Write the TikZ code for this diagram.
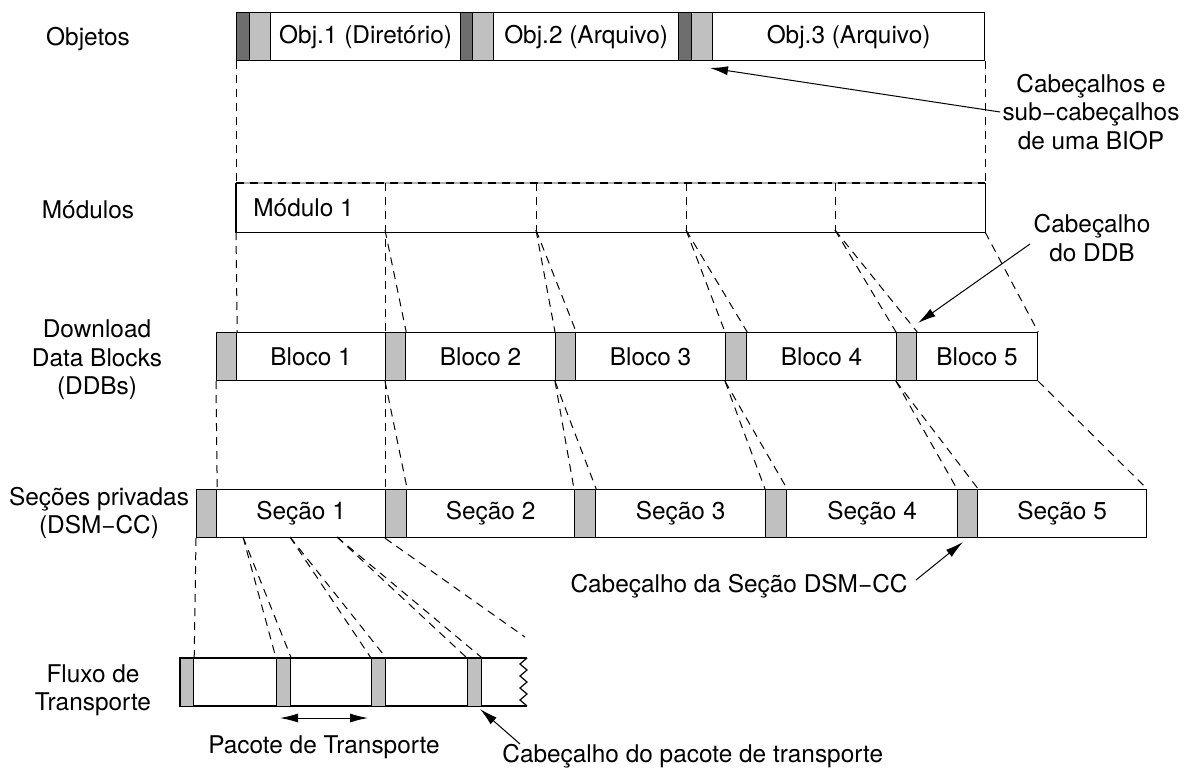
\documentclass[tikz,border=0pt]{standalone}
\usepackage{fontspec}
\setmainfont{TeX Gyre Heros}
\usetikzlibrary{arrows.meta}
\definecolor{dkgray}{HTML}{6E6E6E}
\definecolor{ltgray}{HTML}{C0C0C0}
\newcommand\seg[6]{\node[#1, minimum width={(#4-#3)*0.5pt}] (#2) at (#3,#5) {#6};}
\begin{document}
\begin{tikzpicture}[x=0.5pt,y=-0.5pt,
  font=\fontsize{12.2}{14.2}\selectfont,
  box/.style={draw, line width=0.6pt, minimum height=24pt, inner sep=0pt, anchor=north west},
  dk/.style={box, fill=dkgray},
  lt/.style={box, fill=ltgray},
  wt/.style={box, fill=white},
  blank/.style={box, draw=none},
  dsh/.style={dash pattern=on 4pt off 3pt, line width=0.5pt},
  arr/.style={-{Latex[length=9pt,width=4.5pt]}, line width=0.5pt},
  lbl/.style={align=center, inner sep=1pt}]
\useasboundingbox (0,0) rectangle (1188,771);
\fill[white] (0,0) rectangle (1188,771);

% left labels
\node[lbl] (lobj) at (88,39) {Objetos};
\node[lbl] (lmod) at (88,210) {Módulos};
\node[lbl] (lddb) at (97,360) {Download\\Data Blocks\\(DDBs)};
\node[lbl] (lsec) at (99,513) {Seções privadas\\(DSM−CC)};
\node[lbl] (lts) at (93,690) {Fluxo de\\Transporte};

% objects
\seg{dk}{o1a}{236}{249}{12}{}
\seg{lt}{o1b}{249}{270}{12}{}
\seg{wt}{o1}{270}{460}{12}{Obj.1 (Diretório)}
\seg{dk}{o2a}{460}{472}{12}{}
\seg{lt}{o2b}{472}{493}{12}{}
\seg{wt}{o2}{493}{678}{12}{Obj.2 (Arquivo)}
\seg{dk}{o3a}{678}{691}{12}{}
\seg{lt}{o3b}{691}{712}{12}{}
\seg{wt}{o3}{712}{984}{12}{Obj.3 (Arquivo)}

% module
\seg{blank}{mod}{236}{984}{183}{}
\draw[line width=0.6pt] (mod.north west) -- (mod.south west) -- (mod.south east) -- (mod.north east);
\draw[line width=0.6pt, gray!60] (mod.north west) -- (mod.north east);
\draw[dsh, line width=0.7pt] (mod.north west) -- (mod.north east);
\node[anchor=west, inner sep=0pt] (modt) at (253,208) {Módulo 1};
\coordinate (mt1) at (385,183); \coordinate (mb1) at (385,230);
\coordinate (mt2) at (536,183); \coordinate (mb2) at (536,230);
\coordinate (mt3) at (686,183); \coordinate (mb3) at (686,230);
\coordinate (mt4) at (835,183); \coordinate (mb4) at (835,230);

% DDBs
\seg{lt}{d1h}{216}{236}{332}{}
\seg{wt}{d1}{236}{385}{332}{Bloco 1}
\seg{lt}{d2h}{385}{405}{332}{}
\seg{wt}{d2}{405}{555}{332}{Bloco 2}
\seg{lt}{d3h}{555}{575}{332}{}
\seg{wt}{d3}{575}{725}{332}{Bloco 3}
\seg{lt}{d4h}{725}{746}{332}{}
\seg{wt}{d4}{746}{896}{332}{Bloco 4}
\seg{lt}{d5h}{896}{916}{332}{}
\seg{wt}{d5}{916}{1037}{332}{Bloco 5}

% sections
\seg{lt}{s1h}{196}{216}{489}{}
\seg{wt}{s1}{216}{385}{489}{Seção 1}
\seg{lt}{s2h}{385}{406}{489}{}
\seg{wt}{s2}{406}{574}{489}{Seção 2}
\seg{lt}{s3h}{574}{595}{489}{}
\seg{wt}{s3}{595}{765}{489}{Seção 3}
\seg{lt}{s4h}{765}{786}{489}{}
\seg{wt}{s4}{786}{957}{489}{Seção 4}
\seg{lt}{s5h}{957}{977}{489}{}
\seg{wt}{s5}{977}{1146}{489}{Seção 5}

% transport stream
\seg{blank}{t1}{193}{276}{658}{}
\seg{blank}{t2}{290}{371}{658}{}
\seg{blank}{t3}{385}{467}{658}{}
\seg{blank}{t4}{481}{527}{658}{}
\coordinate (tsNE) at (527,658);
\coordinate (tsSE) at (527,706);
\draw[line width=0.6pt] (tsNE) -- (t1.north west) -| (180,706) -- (tsSE);
\draw[line width=0.6pt] (tsNE) -- ++(-7,6) -- ++(7,6) -- ++(-7,6) -- ++(7,6) -- ++(-7,6) -- ++(7,6) -- ++(-7,6) -- (tsSE);
\seg{lt}{t1h}{180}{193}{658}{}
\seg{lt}{t2h}{276}{290}{658}{}
\seg{lt}{t3h}{371}{385}{658}{}
\seg{lt}{t4h}{467}{481}{658}{}

% dashed projections: objects -> module
\draw[dsh] (o1a.south west) -- (mod.north west);
\draw[dsh] (o3.south east) -- (mod.north east);
% module -> DDBs
\draw[dsh] (mod.south west) -- (d1h.north east);
\draw[dsh] (mt1) -- (d2h.north west);
\draw[dsh] (mb1) -- (d2h.north east);
\draw[dsh] (mt2) -- (mb2);
\draw[dsh] (mb2) -- (d3h.north west);
\draw[dsh] (mb2) -- (d3h.north east);
\draw[dsh] (mt3) -- (mb3);
\draw[dsh] (mb3) -- (d4h.north west);
\draw[dsh] (mb3) -- (d4h.north east);
\draw[dsh] (mt4) -- (mb4);
\draw[dsh] (mb4) -- (d5h.north west);
\draw[dsh] (mb4) -- (d5h.north east);
\draw[dsh] (mod.south east) -- (d5.north east);
% DDBs -> sections
\draw[dsh] (d1h.south west) -- (s1h.north east);
\draw[dsh] (d2h.south west) -- (s2h.north west);
\draw[dsh] (d2h.south west) -- (s2h.north east);
\draw[dsh] (d3h.south west) -- (s3h.north west);
\draw[dsh] (d3h.south west) -- (s3h.north east);
\draw[dsh] (d4h.south west) -- (s4h.north west);
\draw[dsh] (d4h.south west) -- (s4h.north east);
\draw[dsh] (d5h.south west) -- (s5h.north west);
\draw[dsh] (d5h.south west) -- (s5h.north east);
\draw[dsh] (d5.south east) -- (s5.north east);
% sections -> transport stream
\coordinate (sa) at (243,537);
\coordinate (sb) at (290,537);
\coordinate (sc) at (337,537);
\coordinate (send) at (525,637);
\draw[dsh] (s1h.south west) -- (t1h.north east);
\draw[dsh] (sa) -- (t2h.north west);
\draw[dsh] (sa) -- (t2h.north east);
\draw[dsh] (sb) -- (t3h.north west);
\draw[dsh] (sb) -- (t3h.north east);
\draw[dsh] (sc) -- (t4h.north west);
\draw[dsh] (sc) -- (t4h.north east);
\draw[dsh] (s2h.south west) -- (send);

% annotations
\node[lbl] (biop) at (1091,112) {Cabeçalhos e\\sub−cabeçalhos\\de uma BIOP};
\coordinate (biopT) at (710,68);
\draw[arr] (biop.west) -- (biopT);

\node[lbl] (ddbl) at (1092,238) {Cabeçalho\\do DDB};
\coordinate (ddbA) at (1030,244);
\coordinate (ddbT) at (918,323);
\draw[arr] (ddbA) -- (ddbT);

\node[lbl] (secl) at (739,586) {Cabeçalho da Seção DSM−CC};
\coordinate (secA) at (916,580);
\coordinate (secT) at (963,542);
\draw[arr] (secA) -- (secT);

\coordinate (pa) at (280,718);
\coordinate (pb) at (368,718);
\draw[{Latex[length=9pt,width=4.5pt]}-{Latex[length=9pt,width=4.5pt]}, line width=0.5pt] (pa) -- (pb);
\node[lbl] (pac) at (324,747) {Pacote de Transporte};

\node[lbl, anchor=west] (tsl) at (500,756) {Cabeçalho do pacote de transporte};
\coordinate (tsA) at (520,744);
\coordinate (tsT) at (480,709);
\draw[arr] (tsA) -- (tsT);
\end{tikzpicture}
\end{document}
